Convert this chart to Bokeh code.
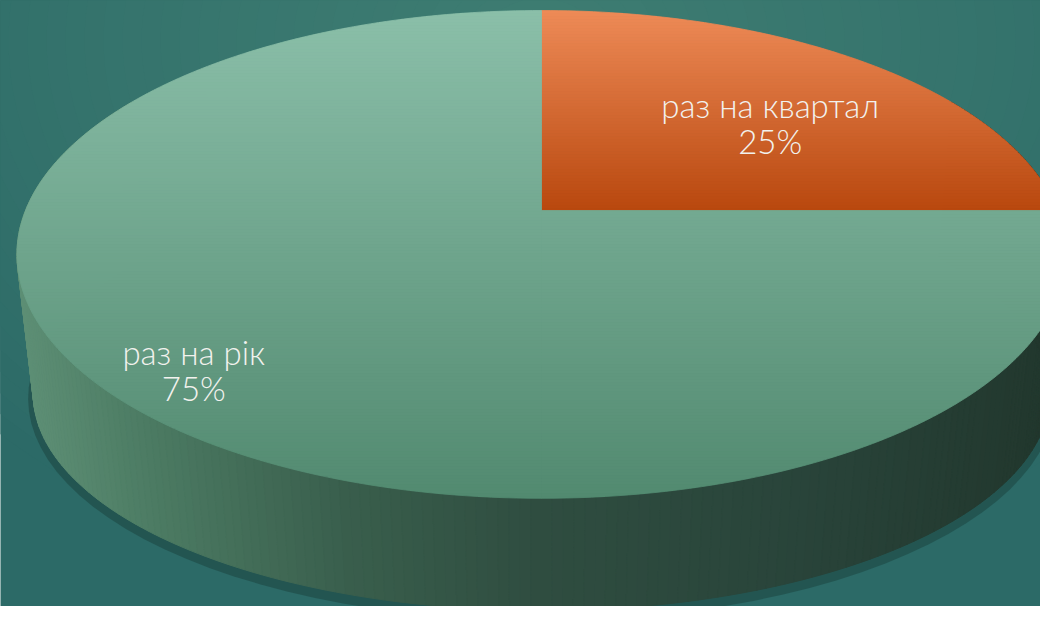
import numpy as np
from bokeh.plotting import figure
from bokeh.models import Range1d, ColumnDataSource
from bokeh.embed import file_html
from bokeh.resources import INLINE
from bokeh.core.properties import value

# ---------------- data ----------------
categories = ["раз на квартал", "раз на рік"]
values = [25, 75]
pct_labels = ["25%", "75%"]

# ---------------- styling / geometry (reference pixel units) ----------------
slice_top_colors = [("#ee8a57", "#b9480e"), ("#8bbfa9", "#528a70")]
side_stops = [(15, "#5f9177"), (150, "#4c7b63"), (350, "#395e4c"),
              (541, "#2f4d40"), (800, "#29443a"), (1070, "#21362c")]
label_r = [0.62, 0.85]
label_shift = [-5.0, 0.0]

CX, CY, A, B, K = 541.0, 210.0, 516.0, 236.0, 0.18
CYB, AB, BB = 354.0, 500.0, 210.0


def hex2rgb(h):
    h = h.lstrip("#")
    return np.array([int(h[i:i + 2], 16) for i in (0, 2, 4)], dtype=float)


def rgb2hex(c):
    c = np.clip(np.round(c), 0, 255).astype(int)
    return "#%02x%02x%02x" % tuple(c)


def interp_stops(x, stops):
    xs = [s[0] for s in stops]
    cols = [hex2rgb(s[1]) for s in stops]
    if x <= xs[0]:
        return rgb2hex(cols[0])
    if x >= xs[-1]:
        return rgb2hex(cols[-1])
    for i in range(len(xs) - 1):
        if xs[i] <= x <= xs[i + 1]:
            t = (x - xs[i]) / (xs[i + 1] - xs[i])
            return rgb2hex(cols[i] * (1 - t) + cols[i + 1] * t)


def proj(r, th, cy, a, b):
    u = r * np.cos(th)
    v = r * np.sin(th)
    d = 1 + K * v
    return CX + a * u / d, cy - b * v / d


def top_pt(r, th):
    return proj(r, th, CY, A, B)


def bot_pt(r, th):
    return proj(r, th, CYB, AB, BB)


def clip_band(poly, y0, y1):
    def clip(pl, keep, yc):
        out = []
        n = len(pl)
        for i in range(n):
            P = pl[i]
            Q = pl[(i + 1) % n]
            pin, qin = keep(P), keep(Q)
            if pin:
                out.append(P)
                if not qin:
                    t = (yc - P[1]) / (Q[1] - P[1])
                    out.append((P[0] + t * (Q[0] - P[0]), yc))
            elif qin:
                t = (yc - P[1]) / (Q[1] - P[1])
                out.append((P[0] + t * (Q[0] - P[0]), yc))
        return out
    p1 = clip(poly, lambda P: P[1] >= y0, y0)
    if len(p1) < 3:
        return []
    p2 = clip(p1, lambda P: P[1] <= y1, y1)
    return p2 if len(p2) >= 3 else []


p = figure(width=1040, height=606, x_range=Range1d(0, 1040), y_range=Range1d(606, 0),
           output_backend="svg", toolbar_location=None, min_border=0)
p.axis.visible = False
p.grid.visible = False
p.outline_line_color = None
base_bg = "#2c6a67"
p.background_fill_color = base_bg
p.border_fill_color = base_bg

# ---------------- background radial glow ----------------
bg_xs, bg_ys, bg_c = [], [], []
tt = np.linspace(0, 2 * np.pi, 120)
nring = 40
for i in range(nring):
    f = 1 - i / nring
    rx = 760 * f
    ry = 560 * f
    t = (i / nring) ** 0.8
    col = hex2rgb(base_bg) * (1 - t) + hex2rgb("#3e7d72") * t
    bg_xs.append(list(540 + rx * np.cos(tt)))
    bg_ys.append(list(40 + ry * np.sin(tt)))
    bg_c.append(rgb2hex(col))
p.patches(xs=bg_xs, ys=bg_ys, fill_color=bg_c, line_color=None)

# ---------------- shadow ----------------
sh_x, sh_y = [], []
for a in tt:
    x, y = proj(1.0, a, CYB + 4, AB + 5, BB + 5)
    sh_x.append(x)
    sh_y.append(y)
p.patch(sh_x, sh_y, fill_color="#173632", fill_alpha=0.4, line_color=None)

# ---------------- side wall ----------------
side_xs, side_ys, side_c = [], [], []
ths = np.radians(np.arange(150, 391, 1.0))
for i in range(len(ths) - 1):
    a0, a1 = ths[i], ths[i + 1]
    x0, y0 = top_pt(1, a0)
    x1, y1 = top_pt(1, a1)
    x2, y2 = bot_pt(1, a1)
    x3, y3 = bot_pt(1, a0)
    side_xs.append([x0, x1, x2, x3])
    side_ys.append([y0, y1, y2, y3])
    side_c.append(interp_stops((x0 + x1 + x2 + x3) / 4, side_stops))
p.patches(xs=side_xs, ys=side_ys, fill_color=side_c, line_color=side_c, line_width=1)

# ---------------- top face ----------------
total = float(sum(values))
start = np.pi / 2
slices = []
for v in values:
    end = start - 2 * np.pi * v / total
    slices.append((start, end))
    start = end

top_xs, top_ys, top_c = [], [], []
band = 3.0
for si, (s, e) in enumerate(slices):
    c_top, c_bot = slice_top_colors[si]
    arc = np.linspace(s, e, 200)
    pts = [top_pt(1, a) for a in arc] + [(CX, CY)]
    ymin = min(q[1] for q in pts)
    ymax = max(q[1] for q in pts)
    npieces = int(np.ceil(abs(s - e) / (np.pi / 2) - 1e-9))
    edges = np.linspace(s, e, npieces + 1)
    for pi_ in range(npieces):
        aa = np.linspace(edges[pi_], edges[pi_ + 1], 80)
        poly = [(CX, CY)] + [top_pt(1, a) for a in aa]
        yb = np.floor(ymin)
        while yb < ymax:
            cp = clip_band(poly, yb, yb + band)
            if cp:
                t = ((yb + band / 2) - ymin) / (ymax - ymin)
                t = min(max(t, 0), 1)
                col = rgb2hex(hex2rgb(c_top) * (1 - t) + hex2rgb(c_bot) * t)
                top_xs.append([q[0] for q in cp])
                top_ys.append([q[1] for q in cp])
                top_c.append(col)
            yb += band
p.patches(xs=top_xs, ys=top_ys, fill_color=top_c, line_color=top_c, line_width=0.8)

# ---------------- labels ----------------
lx, ly1, ly2 = [], [], []
for si, (s, e) in enumerate(slices):
    mid = (s + e) / 2 + np.radians(label_shift[si])
    x, y = top_pt(label_r[si], mid)
    lx.append(x)
    ly1.append(y - 18)
    ly2.append(y + 18)
src = ColumnDataSource(dict(x=lx, y1=ly1, y2=ly2, cat=categories, pct=pct_labels))
font = value("'Lato Light', Lato")
p.text(x="x", y="y1", text="cat", source=src, text_color="#f2f2ee", text_font=font,
       text_font_size="33px", text_align="center", text_baseline="middle")
p.text(x="x", y="y2", text="pct", source=src, text_color="#f2f2ee", text_font=font,
       text_font_size="33px", text_align="center", text_baseline="middle")

open("out.html", "w").write(file_html(p, INLINE))
